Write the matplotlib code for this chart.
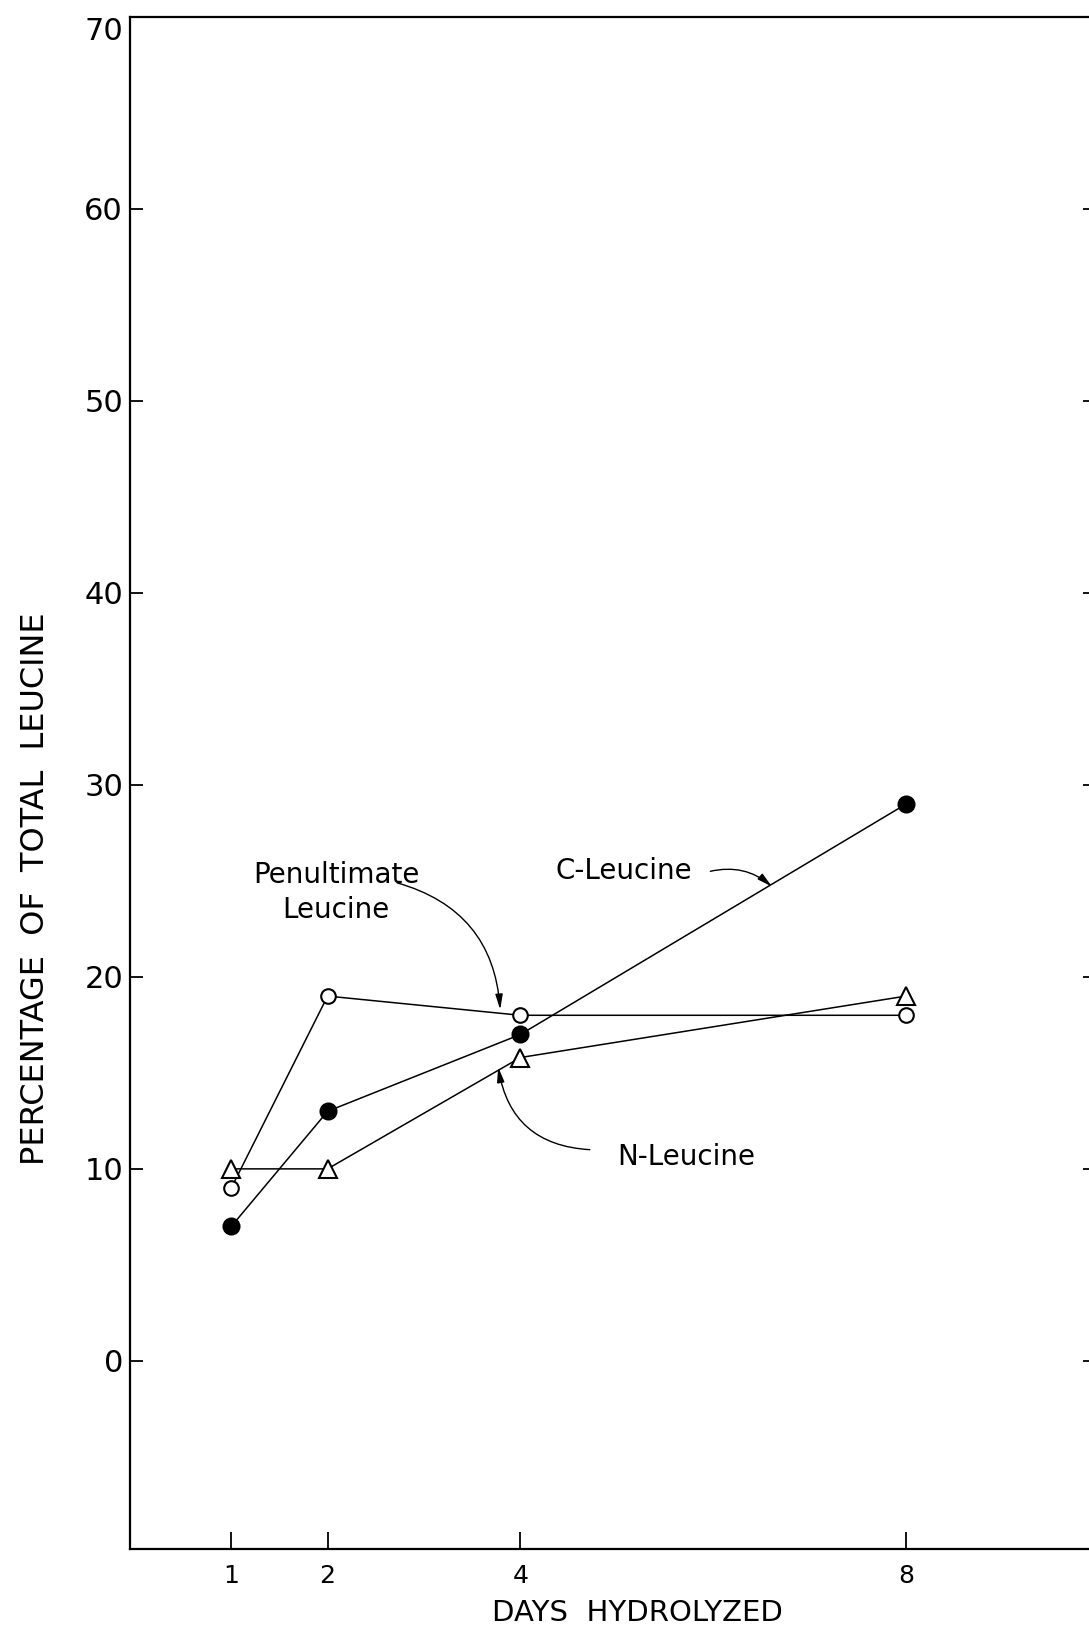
import matplotlib
matplotlib.use("Agg")
import matplotlib.pyplot as plt

# hydrolysis time (days) and leucine fractions (% of total leucine)
days = [1, 2, 4, 8]
c_leucine = [7, 13, 17, 29]
penultimate_leucine = [9, 19, 18, 18]
n_leucine = [10, 10, 15.8, 19]

y_ticks = [0, 10, 20, 30, 40, 50, 60, 70]
x_ticks = [1, 2, 4, 8]

plt.rcParams['font.family'] = ['DejaVu Sans']

fig = plt.figure(figsize=(10.89, 16.29), dpi=100)
ax = fig.add_axes([0.1194, 0.0491, 0.886, 0.9405])

line_kw = dict(color='black', lw=1.1, markeredgewidth=1.5, markeredgecolor='black')
ax.plot(days, penultimate_leucine, marker='o', ms=10.5, mfc='white', zorder=3, **line_kw)
ax.plot(days, n_leucine, marker='^', ms=12.5, mfc='white', zorder=3, **line_kw)
ax.plot(days, c_leucine, marker='o', ms=11.5, mfc='black', zorder=4, **line_kw)

ax.set_xlim(-0.05, 9.96)
ax.set_ylim(-9.8, 70)

ax.set_xticks(x_ticks)
ax.set_xticklabels([str(d) for d in x_ticks])
ax.set_yticks(y_ticks)
ax.set_yticklabels([str(v) for v in y_ticks])

ax.tick_params(axis='x', direction='in', length=12, width=1.3, pad=11, labelsize=18)
ax.tick_params(axis='y', direction='in', length=9, width=1.3, pad=5, labelsize=22,
               right=True)
ax.get_yticklabels()[-1].set_va('top')

for side in ('left', 'top', 'bottom'):
    ax.spines[side].set_linewidth(1.6)
ax.spines['right'].set_visible(False)

ax.set_xlabel('DAYS  HYDROLYZED', fontsize=21)
ax.xaxis.set_label_coords(0.526, -0.042)
ax.xaxis.label.set_va('center')
ax.set_ylabel('PERCENTAGE  OF  TOTAL  LEUCINE', fontsize=23)
ax.yaxis.set_label_coords(-0.098, 0.431)
ax.yaxis.label.set_va('center')

arrow = dict(arrowstyle='-|>,head_length=0.9,head_width=0.22', color='black', lw=1.0,
             shrinkA=0, shrinkB=0)

ax.text(2.09, 24.4, 'Penultimate\nLeucine', ha='center', va='center', fontsize=20,
        linespacing=1.3)
ax.annotate('', xy=(3.79, 18.3), xytext=(2.72, 24.9),
            arrowprops=dict(connectionstyle='arc3,rad=-0.35', **arrow))

ax.text(5.07, 25.5, 'C-Leucine', ha='center', va='center', fontsize=20)
ax.annotate('', xy=(6.61, 24.7), xytext=(5.97, 25.5),
            arrowprops=dict(connectionstyle='arc3,rad=-0.25', **arrow))

ax.text(5.72, 10.6, 'N-Leucine', ha='center', va='center', fontsize=20)
ax.annotate('', xy=(3.77, 15.3), xytext=(4.72, 11.0),
            arrowprops=dict(connectionstyle='arc3,rad=-0.4', **arrow))

fig.savefig('out.png', dpi=100)
